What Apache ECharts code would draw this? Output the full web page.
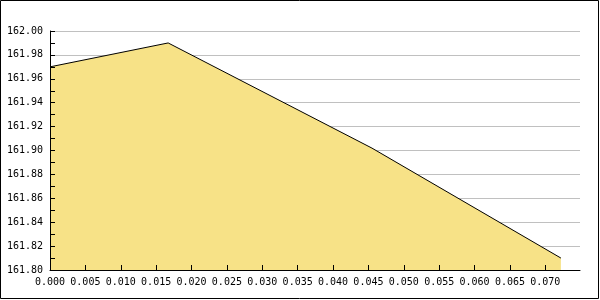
<!DOCTYPE html>
<html>
<head>
<meta charset="utf-8">
<script src="https://cdn.jsdelivr.net/npm/echarts@6/dist/echarts.min.js"></script>
<style>
html,body{margin:0;padding:0;background:#fff;}
#chart{width:600px;height:300px;}
</style>
</head>
<body>
<div id="chart"></div>
<script>
var xValues = [0.0, 0.0167, 0.0455, 0.0722];
var yValues = [161.97, 161.99, 161.902, 161.81];
var xTickLabels = [0.000, 0.005, 0.010, 0.015, 0.020, 0.025, 0.030, 0.035, 0.040, 0.045, 0.050, 0.055, 0.060, 0.065, 0.070];
var yTickLabels = [161.80, 161.82, 161.84, 161.86, 161.88, 161.90, 161.92, 161.94, 161.96, 161.98, 162.00];
var yMinorTicks = [161.81, 161.83, 161.85, 161.87, 161.89, 161.91, 161.93, 161.95, 161.97, 161.99];
var yMin = 161.80, yMax = 162.00, yStep = 0.02;
var xMin = 0, xMax = 0.0749, xStep = 0.005;

var chart = echarts.init(document.getElementById('chart'), null, {renderer: 'canvas'});
var font = 'DejaVu Sans Mono';
chart.setOption({
  animation: false,
  backgroundColor: '#ffffff',
  grid: {left: 50, right: 20, top: 31, bottom: 30, containLabel: false},
  graphic: [{
    type: 'rect', silent: true,
    shape: {x: 0.5, y: 0.5, width: 598, height: 298},
    style: {fill: 'none', stroke: '#000', lineWidth: 1}
  }],
  xAxis: [{
    type: 'value', min: xMin, max: xMax, interval: xStep,
    axisLine: {show: false},
    axisTick: {show: false},
    splitLine: {show: false},
    axisLabel: {color: '#000', fontFamily: font, fontSize: 10, margin: 7,
      customValues: xTickLabels,
      formatter: function (v) { return v.toFixed(3); }}
  }, {
    type: 'value', position: 'bottom', min: xMin, max: xMax, interval: xStep, z: 10,
    axisLine: {show: true, onZero: false, lineStyle: {color: '#000', width: 1}},
    axisTick: {show: true, inside: true, length: 5, lineStyle: {color: '#000', width: 1},
      customValues: xTickLabels},
    splitLine: {show: false},
    axisLabel: {show: false}
  }],
  yAxis: [{
    type: 'value', min: yMin, max: yMax, interval: yStep,
    axisLine: {show: false},
    axisTick: {show: false},
    splitLine: {show: true, lineStyle: {color: '#c0c0c0', width: 1}},
    axisLabel: {color: '#000', fontFamily: font, fontSize: 10, margin: 7,
      customValues: yTickLabels,
      formatter: function (v) { return v.toFixed(2); }}
  }, {
    type: 'value', position: 'left', min: yMin, max: yMax, interval: yStep, z: 10,
    axisLine: {show: true, onZero: false, lineStyle: {color: '#000', width: 1}},
    axisTick: {show: true, inside: true, length: 5, lineStyle: {color: '#000', width: 1},
      customValues: yTickLabels.concat(yMinorTicks)},
    splitLine: {show: false},
    axisLabel: {show: false}
  }],
  series: [{
    type: 'line',
    xAxisIndex: 0, yAxisIndex: 0,
    data: xValues.map(function (x, i) { return [x, yValues[i]]; }),
    showSymbol: false,
    smooth: false,
    lineStyle: {color: '#000', width: 1},
    areaStyle: {color: '#F7E287', opacity: 1, origin: 'start'},
    z: 3
  }]
});
</script>
</body>
</html>
